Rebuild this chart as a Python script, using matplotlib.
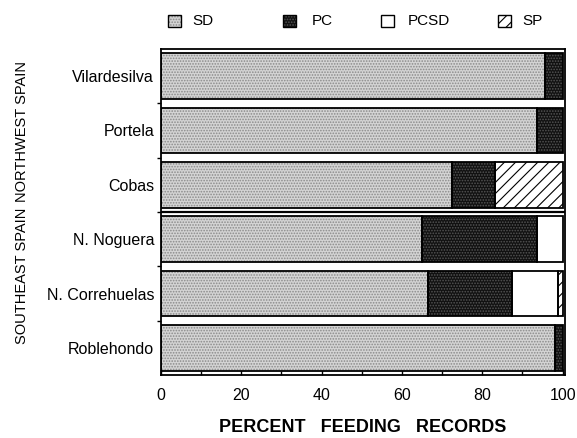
import matplotlib
matplotlib.use("Agg")
import matplotlib.pyplot as plt
from matplotlib.patches import Rectangle
from matplotlib.ticker import MultipleLocator, FixedLocator
import numpy as np

plt.rcParams['font.family'] = ['Liberation Sans', 'DejaVu Sans']
plt.rcParams['hatch.linewidth'] = 0.8

# ---- data (top to bottom) ----
sites = ["Vilardesilva", "Portela", "Cobas", "N. Noguera", "N. Correhuelas", "Roblehondo"]
sd = [95.7, 93.7, 72.5, 65.0, 66.5, 98.2]
pc = [4.3, 6.3, 10.7, 28.7, 21.0, 1.8]
pcsd = [0.0, 0.0, 0.0, 6.3, 11.3, 0.0]
sp = [0.0, 0.0, 16.8, 0.0, 1.2, 0.0]
legend_labels = ["SD", "PC", "PCSD", "SP"]
xticks = [0, 20, 40, 60, 80, 100]
region_labels = ["NORTHWEST SPAIN", "SOUTHEAST SPAIN"]

styles = {
    "SD": dict(face="#d4d4d4", hatch="......", hcol="#8a8a8a"),
    "PC": dict(face="#111111", hatch="......", hcol="#555555"),
    "PCSD": dict(face="white", hatch=None, hcol="white"),
    "SP": dict(face="white", hatch="///", hcol="black"),
}

fig = plt.figure(figsize=(5.77, 4.38), dpi=100)
ax = fig.add_axes([161/577, 1-375/438, (565-161)/577, (375-49)/438])

n = len(sites)
y = np.arange(n)[::-1]
h = 0.84
left = np.zeros(n)
for key, vals in zip(legend_labels, [sd, pc, pcsd, sp]):
    vals = np.array(vals)
    st = styles[key]
    ax.barh(y, vals, left=left, height=h, color=st["face"], hatch=st["hatch"],
            edgecolor=st["hcol"], linewidth=0, zorder=2)
    mask = vals > 0
    ax.barh(y[mask], vals[mask], left=left[mask], height=h, facecolor="none",
            edgecolor="black", linewidth=1.3, zorder=3)
    left = left + vals

ax.set_xlim(0, 100.6)
ax.set_ylim(-0.5, n - 0.5)
ax.axhline(2.5, color="black", linewidth=1.6, zorder=4)

ax.set_yticks(y)
ax.set_yticklabels(sites, fontsize=11.5)
ax.yaxis.set_minor_locator(FixedLocator(np.arange(0.5, n - 0.5, 1.0)))
ax.tick_params(axis="y", which="major", length=0, pad=5)
ax.tick_params(axis="y", which="minor", length=3, direction="out", width=1)

ax.set_xticks(xticks)
ax.set_xticklabels([str(t) for t in xticks], fontsize=11.5)
ax.xaxis.set_minor_locator(MultipleLocator(10))
ax.tick_params(axis="x", which="major", direction="in", length=4, width=1, pad=9)
ax.tick_params(axis="x", which="minor", direction="in", length=3, width=1)
for s in ax.spines.values():
    s.set_linewidth(1.3)

fig.text(363/577, 1-428/438, "PERCENT   FEEDING   RECORDS", ha="center", va="center",
         fontsize=13, fontweight="bold")
fig.text(22/577, 1-131/438, region_labels[0], rotation=90, ha="center", va="center", fontsize=10.5)
fig.text(22/577, 1-276/438, region_labels[1], rotation=90, ha="center", va="center", fontsize=10.5)

# legend
leg_x = [168, 283, 381, 498]
txt_x = [192, 312, 408, 522]
for key, px, tx in zip(legend_labels, leg_x, txt_x):
    st = styles[key]
    w, hh = 13 / 577, 12 / 438
    x0, y0 = px / 577, 1 - 27 / 438
    fig.patches.append(Rectangle((x0, y0), w, hh, transform=fig.transFigure, facecolor=st["face"],
                                 hatch=st["hatch"], edgecolor=st["hcol"], linewidth=0))
    fig.patches.append(Rectangle((x0, y0), w, hh, transform=fig.transFigure, facecolor="none",
                                 edgecolor="black", linewidth=1.0))
    fig.text(tx / 577, 1 - 21 / 438, key, ha="left", va="center", fontsize=11)

fig.savefig("out.png", dpi=100)
